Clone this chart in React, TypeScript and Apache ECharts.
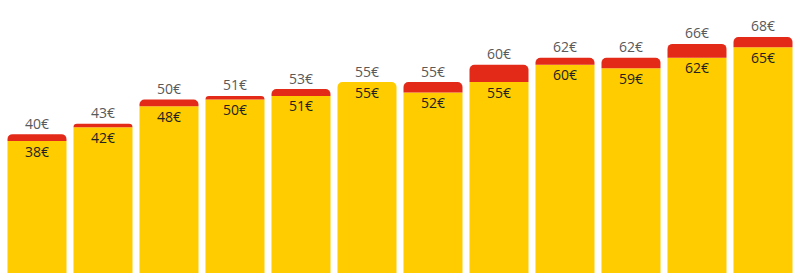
import React, { useEffect, useRef } from "react";
import * as echarts from "echarts";

const categories = ["1", "2", "3", "4", "5", "6", "7", "8", "9", "10", "11", "12"];
const totalValues = [40, 43, 50, 51, 53, 55, 55, 60, 62, 62, 66, 68];
const baseValues = [38, 42, 48, 50, 51, 55, 52, 55, 60, 59, 62, 65];

export default function App() {
  const ref = useRef<HTMLDivElement>(null);
  useEffect(() => {
    if (!ref.current) return;
    const chart = echarts.init(ref.current, null, { renderer: "svg" });
    const topValues = totalValues.map((t, i) => t - baseValues[i]);
    const font = "'Open Sans', 'Noto Sans', sans-serif";
    chart.setOption({
      animation: false,
      grid: { left: 4, right: 4, top: 30, bottom: 7 },
      xAxis: {
        type: "category",
        data: categories,
        show: false,
      },
      yAxis: { type: "value", min: 0, max: 70, show: false },
      series: [
        {
          type: "bar",
          stack: "s",
          barWidth: 59,
          data: baseValues.map((v, i) => ({
            value: v,
            itemStyle: {
              borderRadius: topValues[i] === 0 ? [5, 5, 0, 0] : 0,
            },
          })),
          itemStyle: { color: "#FFCC00" },
          label: {
            show: true,
            position: "insideTop",
            distance: 3,
            formatter: (p: any) => p.value + "€",
            color: "#222222",
            fontSize: 14,
            fontFamily: font,
          },
        },
        {
          type: "bar",
          stack: "s",
          barWidth: 59,
          data: topValues,
          itemStyle: { color: "#E32A19", borderRadius: [5, 5, 0, 0] },
          label: {
            show: true,
            position: "top",
            distance: 4,
            formatter: (p: any) => totalValues[p.dataIndex] + "€",
            color: "#595959",
            fontSize: 14,
            fontFamily: font,
          },
        },
      ],
    });
    return () => chart.dispose();
  }, []);
  return <div ref={ref} style={{ width: 800, height: 280, position: "absolute", left: 0, top: 0 }} />;
}
